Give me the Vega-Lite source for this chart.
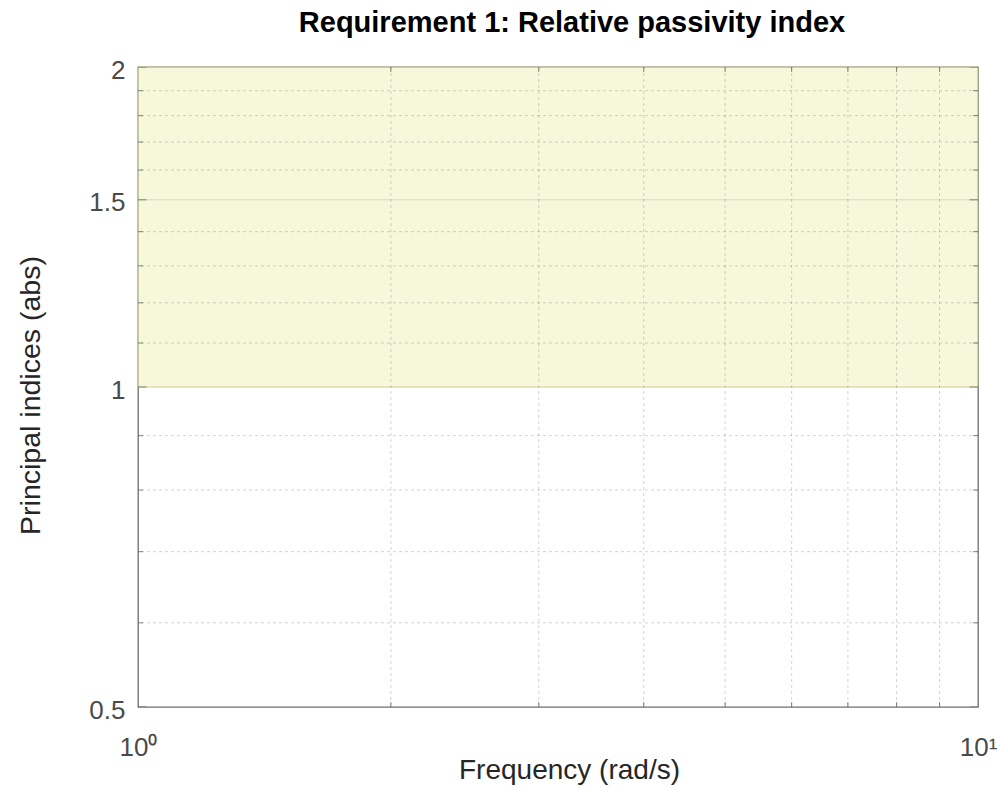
{
  "$schema": "https://vega.github.io/schema/vega-lite/v6.json",
  "width": 840,
  "height": 640,
  "autosize": {"type": "none"},
  "padding": {"left": 138, "top": 67, "right": 22, "bottom": 81},
  "background": "white",
  "title": {
    "text": "Requirement 1: Relative passivity index",
    "font": "Liberation Sans",
    "fontSize": 29,
    "fontWeight": "bold",
    "color": "#000000",
    "anchor": "middle",
    "frame": "group",
    "baseline": "alphabetic",
    "offset": -4,
    "dx": 14
  },
  "datasets": {
    "shade": [{"xlo": 1, "xhi": 10, "ylo": 1, "yhi": 2}],
    "xminor": [{"v": 2}, {"v": 3}, {"v": 4}, {"v": 5}, {"v": 6}, {"v": 7}, {"v": 8}, {"v": 9}],
    "yminor": [{"v": 0.6}, {"v": 0.7}, {"v": 0.8}, {"v": 0.9}, {"v": 1.1}, {"v": 1.2}, {"v": 1.3}, {"v": 1.4}, {"v": 1.6}, {"v": 1.7}, {"v": 1.8}, {"v": 1.9}],
    "ymajor": [{"v": 0.5}, {"v": 1}, {"v": 1.5}, {"v": 2}],
    "ygrid": [{"v": 1.5}]
  },
  "layer": [
    {
      "data": {"name": "shade"},
      "mark": {"type": "rect", "fill": "#F2F2C6", "fillOpacity": 0.62, "stroke": "#C8C890", "strokeOpacity": 0.6, "strokeWidth": 1.5},
      "encoding": {
        "x": {"field": "xlo", "type": "quantitative", "scale": {"type": "log", "domain": [1, 10], "nice": false},
          "axis": {"title": "Frequency (rad/s)", "values": [1, 10], "labelExpr": "datum.value == 1 ? '10⁰' : '10¹'",
            "grid": false, "ticks": false, "tickSize": 0, "domain": false,
            "labelFont": "Liberation Sans", "labelFontSize": 26, "labelColor": "#4a4a4a", "labelBaseline": "alphabetic", "labelPadding": 48, "labelFlush": false,
            "titleFont": "Liberation Sans", "titleFontSize": 28, "titleFontWeight": "normal", "titleColor": "#262626", "titleBaseline": "alphabetic", "titleY": 71, "titleX": 431}},
        "x2": {"field": "xhi"},
        "y": {"field": "ylo", "type": "quantitative", "scale": {"type": "log", "domain": [0.5, 2], "nice": false},
          "axis": {"title": "Principal indices (abs)", "values": [0.5, 1, 1.5, 2], "format": ".1~f",
            "grid": false, "ticks": false, "tickSize": 0, "domain": false,
            "labelFont": "Liberation Sans", "labelFontSize": 26, "labelColor": "#4a4a4a", "labelBaseline": "middle", "labelOffset": 3, "labelPadding": 13, "labelFlush": false,
            "titleFont": "Liberation Sans", "titleFontSize": 28.5, "titleFontWeight": "normal", "titleColor": "#262626", "titleBaseline": "alphabetic", "titleAngle": -90, "titleAlign": "center", "titleX": -99, "titleY": 328}},
        "y2": {"field": "yhi"}
      }
    },
    {
      "data": {"name": "xminor"},
      "mark": {"type": "rule", "color": "#262626", "opacity": 0.2, "strokeDash": [3, 3], "strokeWidth": 1},
      "encoding": {
        "x": {"field": "v", "type": "quantitative"}
      }
    },
    {
      "data": {"name": "yminor"},
      "mark": {"type": "rule", "color": "#262626", "opacity": 0.2, "strokeDash": [3, 3], "strokeWidth": 1},
      "encoding": {
        "y": {"field": "v", "type": "quantitative"}
      }
    },
    {
      "data": {"name": "ygrid"},
      "mark": {"type": "rule", "color": "#262626", "opacity": 0.15, "strokeWidth": 1},
      "encoding": {
        "y": {"field": "v", "type": "quantitative"}
      }
    },
    {
      "data": {"name": "xminor"},
      "mark": {"type": "tick", "orient": "vertical", "color": "#555555", "size": 10, "thickness": 1, "clip": true},
      "encoding": {"x": {"field": "v", "type": "quantitative"}, "y": {"datum": 0.5}}
    },
    {
      "data": {"name": "xminor"},
      "mark": {"type": "tick", "orient": "vertical", "color": "#555555", "size": 10, "thickness": 1, "clip": true},
      "encoding": {"x": {"field": "v", "type": "quantitative"}, "y": {"datum": 2}}
    },
    {
      "data": {"name": "yminor"},
      "mark": {"type": "tick", "orient": "horizontal", "color": "#555555", "size": 10, "thickness": 1, "clip": true},
      "encoding": {"y": {"field": "v", "type": "quantitative"}, "x": {"datum": 1}}
    },
    {
      "data": {"name": "yminor"},
      "mark": {"type": "tick", "orient": "horizontal", "color": "#555555", "size": 10, "thickness": 1, "clip": true},
      "encoding": {"y": {"field": "v", "type": "quantitative"}, "x": {"datum": 10}}
    },
    {
      "data": {"name": "ymajor"},
      "mark": {"type": "tick", "orient": "horizontal", "color": "#555555", "size": 17, "thickness": 1, "clip": true},
      "encoding": {"y": {"field": "v", "type": "quantitative"}, "x": {"datum": 1}}
    },
    {
      "data": {"name": "ymajor"},
      "mark": {"type": "tick", "orient": "horizontal", "color": "#555555", "size": 17, "thickness": 1, "clip": true},
      "encoding": {"y": {"field": "v", "type": "quantitative"}, "x": {"datum": 10}}
    }
  ],
  "config": {
    "view": {"stroke": "#6f6f6f", "strokeWidth": 1.3}
  }
}
